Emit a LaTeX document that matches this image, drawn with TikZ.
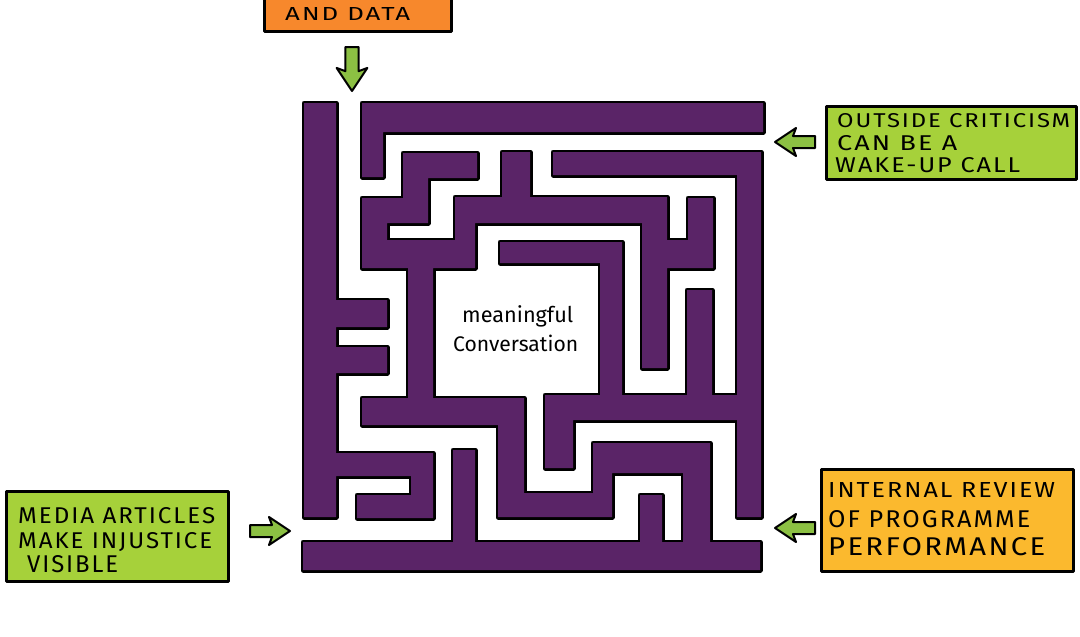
\documentclass[tikz,border=0pt]{standalone}
\usepackage{fontspec}
\usepackage{graphicx}
\setmainfont{Fira Sans}
\newfontfamily\capsfont[LetterSpace=8]{Fira Sans}
\newfontfamily\handfont{Fira Sans}
\definecolor{mazepurple}{HTML}{5A2467}
\definecolor{boxgreen}{HTML}{A6D13A}
\definecolor{boxorange}{HTML}{F7882C}
\definecolor{boxyellow}{HTML}{FBB92E}
\definecolor{arrowgreen}{HTML}{8CC043}
\newcommand\mazerects{
(304,103) rectangle (336,517)
(336,300) rectangle (387,327)
(336,347) rectangle (387,373)
(336,453) rectangle (433,476)
(411,453) rectangle (433,518)
(357,495) rectangle (433,518)
(362,103) rectangle (763,132)
(362,103) rectangle (383,177)
(553,152) rectangle (761,175)
(737,152) rectangle (761,517)
(545,395) rectangle (761,420)
(545,395) rectangle (573,468)
(600,242) rectangle (622,420)
(500,242) rectangle (622,263)
(687,290) rectangle (712,420)
(403,153) rectangle (477,178)
(403,153) rectangle (428,223)
(362,198) rectangle (428,223)
(362,198) rectangle (387,268)
(362,240) rectangle (475,268)
(455,197) rectangle (475,268)
(455,197) rectangle (667,223)
(502,152) rectangle (530,223)
(642,197) rectangle (667,368)
(642,240) rectangle (713,268)
(688,198) rectangle (713,268)
(408,240) rectangle (433,425)
(362,398) rectangle (524,425)
(498,398) rectangle (524,517)
(498,493) rectangle (612,517)
(593,443) rectangle (612,517)
(593,443) rectangle (710,473)
(683,443) rectangle (710,570)
(303,542) rectangle (760,570)
(453,450) rectangle (475,570)
(640,495) rectangle (662,570)
}
\tikzset{
  tagbox/.style={draw=black, line width=2.5pt, line join=round, anchor=north west, inner sep=0pt, rectangle},
  tagline/.style={anchor=base west, inner sep=0pt, font=\capsfont},
  handline/.style={anchor=base west, inner sep=0pt, font=\handfont},
  blockarrow/.pic={\filldraw[fill=arrowgreen, draw=black, line width=2pt, line join=round]
     (0,-6) -- (22,-6) -- (19,-14) -- (40,0) -- (19,14) -- (22,6) -- (0,6) -- cycle;}
}
\begin{document}
\begin{tikzpicture}[x=1pt,y=-1pt]
\useasboundingbox (0,0) rectangle (1080,637);
\clip (0,0) rectangle (1080,637);
\fill[white] (0,0) rectangle (1080,637);
% maze
\draw[line width=5pt, line join=round, black] \mazerects;
\fill[mazepurple] \mazerects;
% centre text
\node[handline] (goal1) at (462,322) {\resizebox{111pt}{!}{meaningful}};
\node[handline] (goal2) at (453,351) {\resizebox{125pt}{!}{Conversation}};
% top orange tag
\node[tagbox, fill=boxorange, minimum width=187pt, minimum height=60pt] (datatag) at (263,-30) {};
\node[tagline] (datatext) at (285,20) {\resizebox{125pt}{13pt}{AND DATA}};
% right green tag
\node[tagbox, fill=boxgreen, minimum width=250pt, minimum height=73pt] (crittag) at (825,105) {};
\node[tagline] (crit1) at (837,127) {\resizebox{233pt}{14pt}{OUTSIDE CRITICISM}};
\node[tagline] (crit2) at (837,150) {\resizebox{120pt}{15pt}{CAN BE A}};
\node[tagline] (crit3) at (835,172) {\resizebox{185pt}{15pt}{WAKE-UP CALL}};
% bottom-left green tag
\node[tagbox, fill=boxgreen, minimum width=222pt, minimum height=90pt] (mediatag) at (5,490) {};
\node[tagline] (media1) at (18,523) {\resizebox{197pt}{16pt}{MEDIA ARTICLES}};
\node[tagline] (media2) at (18,548) {\resizebox{194pt}{16pt}{MAKE INJUSTICE}};
\node[tagline] (media3) at (27,572) {\resizebox{91pt}{17pt}{VISIBLE}};
% bottom-right yellow tag
\node[tagbox, fill=boxyellow, minimum width=252pt, minimum height=102pt] (reviewtag) at (820,468) {};
\node[tagline] (review1) at (828,497) {\resizebox{227pt}{15pt}{INTERNAL REVIEW}};
\node[tagline] (review2) at (828,527) {\resizebox{202pt}{17pt}{OF PROGRAMME}};
\node[tagline] (review3) at (828,555) {\resizebox{217pt}{18pt}{PERFORMANCE}};
% arrows
\pic[rotate=-90, scale=1.1] at (352,47) {blockarrow};
\pic[rotate=180] at (815,142) {blockarrow};
\pic at (250,531) {blockarrow};
\pic[rotate=180] at (815,528) {blockarrow};
\end{tikzpicture}
\end{document}
